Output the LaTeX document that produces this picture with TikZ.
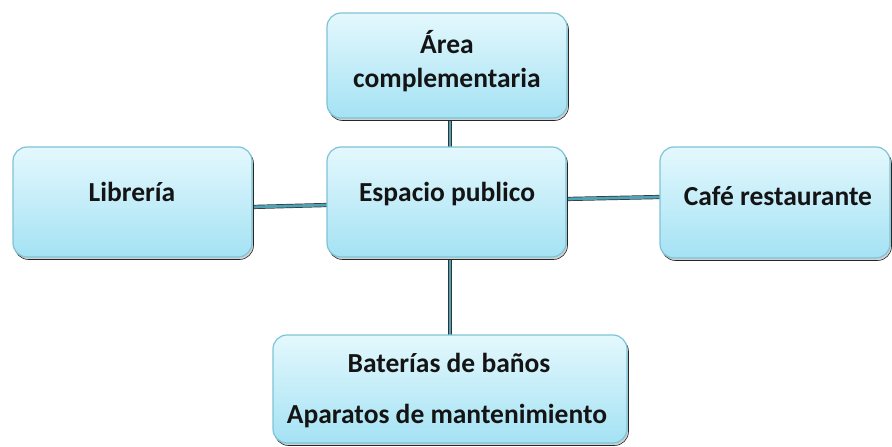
\documentclass[tikz,border=0pt]{standalone}
\usepackage{fontspec}
\setmainfont{Carlito}
\usetikzlibrary{shadows}
\begin{document}
\begin{tikzpicture}[x=1pt,y=-1pt,
  box/.style={draw=boxedge, line width=1.2pt, rounded corners=14pt, top color=boxtop, bottom color=boxbot,
    drop shadow={shadow xshift=1.5pt, shadow yshift=-2.5pt, fill=black!18, draw=black!85, line width=0.6pt, opacity=1},
    inner sep=0pt, outer sep=0pt},
  lbl/.style={font=\fontsize{27.5}{34}\selectfont\bfseries, text=black!92, inner sep=0pt, align=center},
  linkedge/.style={draw=black!80, line width=4.2pt},
  link/.style={draw=linkcol, line width=2.8pt}]
\definecolor{boxtop}{HTML}{E4F8FD}
\definecolor{boxbot}{HTML}{A4E2F4}
\definecolor{boxedge}{HTML}{7EC3D6}
\definecolor{linkcol}{HTML}{4FA3B6}
\useasboundingbox (0,0) rectangle (892,447);
\coordinate (t1) at (450,118); \coordinate (t2) at (450,147);
\coordinate (b1) at (450,257); \coordinate (b2) at (450,335);
\coordinate (l1) at (252,207); \coordinate (l2) at (327,205);
\coordinate (r1) at (566,199); \coordinate (r2) at (660,197);
\draw[linkedge] (t1) -- (t2);
\draw[linkedge] (b1) -- (b2);
\draw[linkedge] (l1) -- (l2);
\draw[linkedge] (r1) -- (r2);
\draw[link] (t1) -- (t2);
\draw[link] (b1) -- (b2);
\draw[link] (l1) -- (l2);
\draw[link] (r1) -- (r2);
\node[box, minimum width=240pt, minimum height=105pt] (top) at (447,65.5) {};
\node[box, minimum width=239pt, minimum height=110pt] (left) at (132.5,202) {};
\node[box, minimum width=239pt, minimum height=110pt] (mid) at (446.5,202) {};
\node[box, minimum width=230pt, minimum height=111pt] (right) at (775,202.5) {};
\node[box, minimum width=354pt, minimum height=108pt] (bot) at (450,389) {};
\node[lbl] (ttxt) at (447,61) {Área\\complementaria};
\node[lbl] (ltxt) at (132,192) {Librería};
\node[lbl] (mtxt) at (447,194) {Espacio publico};
\node[lbl] (rtxt) at (778,196) {Café restaurante};
\node[lbl] (btxt1) at (449,363) {Baterías de baños};
\node[lbl] (btxt2) at (447,416) {Aparatos de mantenimiento};
\end{tikzpicture}
\end{document}
